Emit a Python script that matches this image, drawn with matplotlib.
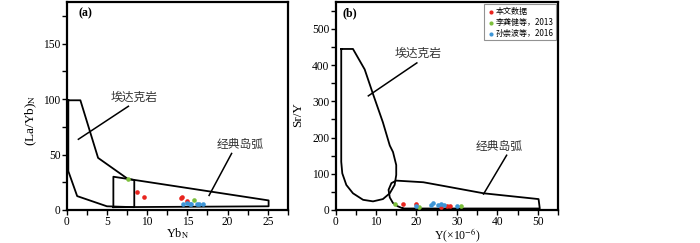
import matplotlib
matplotlib.use("Agg")
import matplotlib.pyplot as plt
from matplotlib.ticker import MultipleLocator

plt.rcParams['font.family'] = ['Liberation Serif', 'Noto Sans CJK SC']
plt.rcParams['mathtext.fontset'] = 'stix'

# ---------------- data: panel (a) ----------------
a_adakite_x = [0.2, 1.7, 3.9, 7.6, 8.4, 8.4, 5.0, 1.3, 0.2, 0.2]
a_adakite_y = [99, 99, 47, 28, 27, 2.5, 3.3, 12.5, 35, 99]
a_arc_x = [5.8, 5.8, 7.6, 25.1, 25.1, 5.8]
a_arc_y = [2.5, 30, 28, 8.6, 3.3, 2.5]
a_red_x = [8.8, 9.65, 14.2, 14.3, 14.9]
a_red_y = [15.8, 11.6, 10.4, 11.9, 7.8]
a_green_x = [7.66, 15.8]
a_green_y = [27.7, 8.7]
a_blue_x = [14.5, 14.9, 15.3, 15.5, 16.2, 16.5, 16.9]
a_blue_y = [5.5, 6.2, 5.5, 5.2, 5.5, 5.5, 5.5]

# ---------------- data: panel (b) ----------------
b_adakite_x = [1.4, 4.3, 7.2, 9.26, 11.7, 13.4, 14.2, 15.0, 15.0, 14.6, 13.4, 11.7,
               9.26, 6.8, 4.3, 2.66, 1.66, 1.4, 1.4]
b_adakite_y = [444.5, 444.5, 388, 320, 242, 178, 160, 124, 96.5, 69, 46, 30,
               23.7, 28, 46, 69, 101, 133, 444.5]
b_arc_x = [16.7, 15.4, 14.2, 13.4, 13.1, 13.8, 15.0, 21.7, 27.5, 36.6, 50.2, 50.5, 16.7]
b_arc_y = [4, 10, 19, 34.6, 55.5, 74, 81, 76.5, 64.7, 46, 30, 4, 4]
b_red_x = [16.6, 19.9, 26.0, 27.5, 28.3]
b_red_y = [16.4, 16.4, 7.3, 10, 10]
b_green_x = [14.7, 20.7, 31.0]
b_green_y = [16.4, 8.5, 11]
b_blue_x = [19.9, 23.5, 24.0, 25.4, 26.1, 26.7, 30.1]
b_blue_y = [12, 14.5, 19, 14.5, 16, 12.8, 10]

field_labels = ['埃达克岩', '经典岛弧']
legend_labels = ['本文数据', '李龚健等，2013', '孙崇波等，2016']
colors = ['#e8251f', '#7cbf3c', '#3d95d6']

fig = plt.figure(figsize=(7, 2.43), dpi=100)
axa = fig.add_axes([0.0953, 0.136, 0.316, 0.857])
axb = fig.add_axes([0.4794, 0.136, 0.3177, 0.857])

cjk = ['Noto Sans CJK SC', 'DejaVu Sans']
lw = 1.3
ms = 11

def style(ax):
    for s in ax.spines.values():
        s.set_linewidth(1.6)
    ax.tick_params(which='both', direction='out', width=1.0, labelsize=8.3, pad=0.8)
    ax.tick_params(which='major', length=3.5)
    ax.tick_params(which='minor', length=3.5)

# panel (a)
axa.plot(a_adakite_x, a_adakite_y, color='black', lw=lw, solid_joinstyle='round')
axa.plot(a_arc_x, a_arc_y, color='black', lw=lw, solid_joinstyle='round')
axa.plot([7.67, 1.45], [93.6, 63.8], color='black', lw=1.1)
axa.plot([20.5, 17.7], [51, 13.1], color='black', lw=1.1)
axa.text(8.35, 101.7, field_labels[0], family=cjk, fontsize=8.5, color='#333333',
         ha='center', va='center')
axa.text(21.6, 59.3, field_labels[1], family=cjk, fontsize=8.5, color='#333333',
         ha='center', va='center')
axa.scatter(a_red_x, a_red_y, s=ms, color=colors[0], zorder=3, linewidths=0)
axa.scatter(a_green_x, a_green_y, s=ms, color=colors[1], zorder=3, linewidths=0)
axa.scatter(a_blue_x, a_blue_y, s=ms, color=colors[2], zorder=3, linewidths=0)
axa.set_xlim(0, 27.5)
axa.set_ylim(0, 188)
axa.xaxis.set_major_locator(MultipleLocator(5))
axa.xaxis.set_minor_locator(MultipleLocator(2.5))
axa.yaxis.set_major_locator(MultipleLocator(50))
axa.yaxis.set_minor_locator(MultipleLocator(25))
axa.set_xlabel(r'Yb$_\mathrm{N}$', fontsize=8.8)
axa.xaxis.set_label_coords(0.5, -0.08)
axa.set_ylabel(r'(La/Yb)$_\mathrm{N}$', fontsize=9.5)
axa.yaxis.set_label_coords(-0.125, 0.43)
axa.text(0.055, 0.975, '(a)', transform=axa.transAxes, fontsize=8.5,
         fontweight='bold', ha='left', va='top')
style(axa)

# panel (b)
axb.plot(b_adakite_x, b_adakite_y, color='black', lw=lw, solid_joinstyle='round')
axb.plot(b_arc_x, b_arc_y, color='black', lw=lw, solid_joinstyle='round')
axb.plot([20.1, 8.1], [406, 315], color='black', lw=1.1)
axb.plot([42.3, 36.6], [151, 44], color='black', lw=1.1)
axb.text(20.5, 433, field_labels[0], family=cjk, fontsize=8.5, color='#333333',
         ha='center', va='center')
axb.text(40.5, 174, field_labels[1], family=cjk, fontsize=8.5, color='#333333',
         ha='center', va='center')
axb.scatter(b_red_x, b_red_y, s=ms, color=colors[0], zorder=3, linewidths=0,
            label=legend_labels[0])
axb.scatter(b_green_x, b_green_y, s=ms, color=colors[1], zorder=3, linewidths=0,
            label=legend_labels[1])
axb.scatter(b_blue_x, b_blue_y, s=ms, color=colors[2], zorder=3, linewidths=0,
            label=legend_labels[2])
axb.set_xlim(0, 55)
axb.set_ylim(0, 575)
axb.xaxis.set_major_locator(MultipleLocator(10))
axb.xaxis.set_minor_locator(MultipleLocator(5))
axb.yaxis.set_major_locator(MultipleLocator(100))
axb.yaxis.set_minor_locator(MultipleLocator(50))
axb.set_xlabel(r'Y(×10$^{-6}$)', fontsize=8.5)
axb.xaxis.set_label_coords(0.545, -0.08)
axb.set_ylabel('Sr/Y', fontsize=9.5)
axb.yaxis.set_label_coords(-0.14, 0.46)
axb.text(0.03, 0.975, '(b)', transform=axb.transAxes, fontsize=8.5,
         fontweight='bold', ha='left', va='top')
leg = axb.legend(loc='upper right', bbox_to_anchor=(0.998, 0.995),
                 prop={'family': ['Noto Sans CJK SC', 'Liberation Serif'], 'size': 5.8},
                 frameon=True, fancybox=False, edgecolor='#777777',
                 handletextpad=0.1, handlelength=1.0, borderpad=0.3,
                 labelspacing=0.25, borderaxespad=0.2, markerscale=0.9)
leg.get_frame().set_linewidth(0.8)
style(axb)

fig.savefig('out.png', dpi=100)
